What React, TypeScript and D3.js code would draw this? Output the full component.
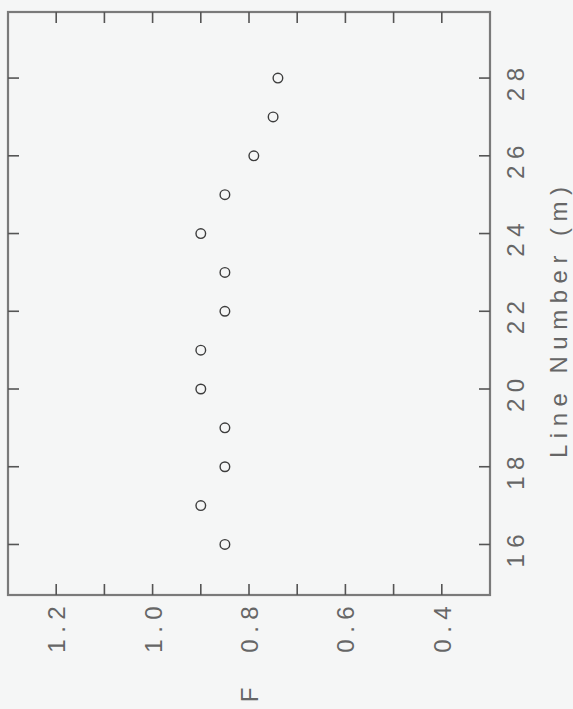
import React, { useEffect, useRef } from 'react';
import * as d3 from 'd3';

const lineNumbers = [16, 17, 18, 19, 20, 21, 22, 23, 24, 25, 26, 27, 28];
const fValues = [0.85, 0.9, 0.85, 0.85, 0.9, 0.9, 0.85, 0.85, 0.9, 0.85, 0.79, 0.75, 0.74];

const fTicks = [1.2, 1.1, 1.0, 0.9, 0.8, 0.7, 0.6, 0.5, 0.4];
const fLabels = ['1.2', '1.0', '0.8', '0.6', '0.4'];
const lineTicks = [16, 18, 20, 22, 24, 26, 28];

const W = 573;
const H = 709;
const frame = { left: 8, right: 490, top: 12, bottom: 595 };

const App: React.FC = () => {
  const svgRef = useRef<SVGSVGElement>(null);

  useEffect(() => {
    if (!svgRef.current) return;
    const svg = d3.select(svgRef.current);
    svg.selectAll('*').remove();

    // F runs left to right from high to low, line number bottom to top
    const x = d3.scaleLinear().domain([1.3, 0.3]).range([frame.left, frame.right]);
    const y = d3.scaleLinear().domain([14.7, 29.7]).range([frame.bottom, frame.top]);

    svg.append('rect')
      .attr('width', W).attr('height', H)
      .attr('fill', '#f5f6f6');

    const axisColor = '#7a7a7a';
    const textColor = '#666';
    const font = '"Liberation Sans", Arial, sans-serif';
    const ls = 6.5;
    const tickLen = 11;

    // frame
    svg.append('rect')
      .attr('x', frame.left).attr('y', frame.top)
      .attr('width', frame.right - frame.left)
      .attr('height', frame.bottom - frame.top)
      .attr('fill', 'none')
      .attr('stroke', axisColor)
      .attr('stroke-width', 2.2);

    // ticks on bottom and top (F)
    const g = svg.append('g').attr('stroke', '#555').attr('stroke-width', 1.6);
    g.selectAll('.tb').data(fTicks).enter().append('line')
      .attr('x1', d => x(d)).attr('x2', d => x(d))
      .attr('y1', frame.bottom).attr('y2', frame.bottom - tickLen);
    g.selectAll('.tt').data(fTicks).enter().append('line')
      .attr('x1', d => x(d)).attr('x2', d => x(d))
      .attr('y1', frame.top).attr('y2', frame.top + tickLen);

    // ticks on left and right (line number)
    g.selectAll('.tr').data(lineTicks).enter().append('line')
      .attr('y1', d => y(d)).attr('y2', d => y(d))
      .attr('x1', frame.right).attr('x2', frame.right - tickLen);
    g.selectAll('.tl').data(lineTicks).enter().append('line')
      .attr('y1', d => y(d)).attr('y2', d => y(d))
      .attr('x1', frame.left).attr('x2', frame.left + tickLen);

    // rotated tick labels, F axis
    svg.selectAll('.fl').data(fLabels).enter().append('text')
      .attr('transform', d => `translate(${x(+d) + 9},${623 + ls / 2}) rotate(-90)`)
      .attr('text-anchor', 'middle')
      .attr('font-family', font)
      .attr('font-size', 24)
      .attr('letter-spacing', ls)
      .attr('fill', textColor)
      .text(d => d);

    // rotated tick labels, line number axis
    svg.selectAll('.ll').data(lineTicks).enter().append('text')
      .attr('transform', d => `translate(${524},${y(d) + ls / 2}) rotate(-90)`)
      .attr('text-anchor', 'middle')
      .attr('font-family', font)
      .attr('font-size', 24)
      .attr('letter-spacing', ls)
      .attr('fill', textColor)
      .text(d => d);

    // axis titles
    svg.append('text')
      .attr('transform', `translate(${x(0.8) + 9},${695}) rotate(-90)`)
      .attr('text-anchor', 'middle')
      .attr('font-family', font)
      .attr('font-size', 24)
      .attr('fill', textColor)
      .text('F');

    svg.append('text')
      .attr('transform', `translate(${567},${316 + ls / 2}) rotate(-90)`)
      .attr('text-anchor', 'middle')
      .attr('font-family', font)
      .attr('font-size', 24)
      .attr('letter-spacing', ls)
      .attr('fill', textColor)
      .text('Line Number (m)');

    // points
    svg.selectAll('.pt').data(lineNumbers).enter().append('circle')
      .attr('cx', (_, i) => x(fValues[i]))
      .attr('cy', d => y(d))
      .attr('r', 4.8)
      .attr('fill', 'none')
      .attr('stroke', '#3d3d3d')
      .attr('stroke-width', 1.4);
  }, []);

  return (
    <div style={{ position: 'absolute', left: 0, top: 0 }}>
      <svg ref={svgRef} width={W} height={H} style={{ display: 'block' }} />
    </div>
  );
};

export default App;
